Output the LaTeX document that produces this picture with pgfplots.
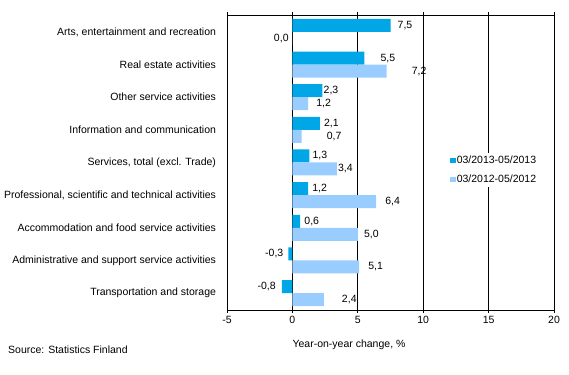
\documentclass[border=0pt]{standalone}
\usepackage{pgfplots}
\pgfplotsset{compat=1.18}
\usepackage{pgfplotstable}
\usepackage{fontspec}
\setmainfont{Liberation Sans}
\definecolor{darkbar}{RGB}{0,166,230}
\definecolor{lightbar}{RGB}{153,204,255}
\pgfplotstableread{
y dark dxd light dxl
0 -0.8 -6 2.4 18
1 -0.3 -5 5.1 9
2 0.6 4 5.0 6
3 1.2 4 6.4 9
4 1.3 3 3.4 1
5 2.1 4 0.7 25
6 2.3 1 1.2 8
7 5.5 16 7.2 25
8 7.5 7 0.0 -18.6
}\data
\begin{document}
\begin{tikzpicture}[font=\fontsize{10.5}{12}\selectfont]
\path[use as bounding box] (-227pt,-64pt) rectangle (342pt,310pt);
\begin{axis}[
  at={(0,0)}, anchor=south west,
  scale only axis, width=327pt, height=295pt,
  xbar, bar width=13pt,
  xmin=-5, xmax=20, ymin=-0.52, ymax=8.52,
  xtick={-5,0,5,10,15,20},
  ytick={0,1,2,3,4,5,6,7,8},
  yticklabels={Transportation and storage,Administrative and support service activities,Accommodation and food service activities,{Professional, scientific and technical activities},{Services, total (excl. Trade)},Information and communication,Other service activities,Real estate activities,{Arts, entertainment and recreation}},
  ytick style={draw=none},
  yticklabel style={xshift=-4.5pt},
  tick align=outside, major tick length=3pt,
  xtick style={line width=0.8pt, black},
  xmajorgrids, grid style={line width=0.8pt, black},
  axis line style={line width=0.8pt},
  /pgf/number format/assume math mode=true,
  /pgf/number format/.cd, fixed, fixed zerofill, precision=1, use comma, /pgfplots/.cd,
  xticklabel={\pgfmathprintnumber[fixed, precision=0]{\tick}},
  xlabel={Year-on-year change, \%},
  xlabel style={at={(rel axis cs:0.2,0)}, anchor=north west, yshift=-30pt, inner sep=0pt},
  legend style={at={(rel axis cs:0.676,0.475)}, anchor=west, draw=none, fill=white,
    inner sep=2pt, row sep=8pt, nodes={inner sep=1pt}},
  legend cell align=left,
  legend image code/.code={\fill[#1] (0pt,-2.8pt) rectangle (5.5pt,2.8pt);},
  clip=false,
]
\addplot[fill=darkbar, draw=none, bar shift=6.5pt,
  nodes near coords,
  visualization depends on={\thisrow{dxd} \as \dx},
  every node near coord/.append style={xshift=\dx pt, inner sep=0pt, black}]
  table[x=dark, y=y] {\data};
\addlegendentry{03/2013-05/2013}
\addplot[fill=lightbar, draw=none, bar shift=-6.5pt,
  nodes near coords,
  visualization depends on={\thisrow{dxl} \as \dx},
  every node near coord/.append style={xshift=\dx pt, inner sep=0pt, black}]
  table[x=light, y=y] {\data};
\addlegendentry{03/2012-05/2012}
\end{axis}
\node[anchor=west, inner sep=0pt] at (-219pt,-40pt) {Source: Statistics Finland};
\end{tikzpicture}
\end{document}
